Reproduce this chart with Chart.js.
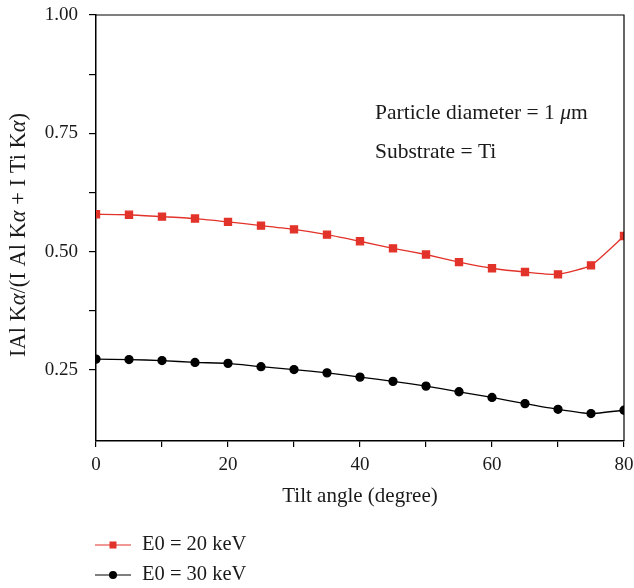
<!DOCTYPE html>
<html lang="en">
<head>
  <meta charset="UTF-8" />
  <title>Tilt angle</title>
  <script src="https://cdn.jsdelivr.net/npm/chart.js"></script>
  <style>
    html, body { margin: 0; padding: 0; background: #fff; }
    #wrap { width: 634px; height: 588px; }
  </style>
</head>
<body>
  <div id="wrap"><canvas id="grafico" width="634" height="588"></canvas></div>

  <script>
    // datos
    const tiltAngles = [0, 5, 10, 15, 20, 25, 30, 35, 40, 45, 50, 55, 60, 65, 70, 75, 80];
    const ratio20keV = [0.579, 0.578, 0.574, 0.570, 0.563, 0.555, 0.547, 0.536, 0.522, 0.507, 0.494, 0.478, 0.465, 0.457, 0.452, 0.471, 0.533];
    const ratio30keV = [0.273, 0.272, 0.270, 0.266, 0.264, 0.257, 0.251, 0.244, 0.235, 0.226, 0.216, 0.204, 0.192, 0.179, 0.167, 0.158, 0.165];
    const seriesLabels = ['E0 = 20 keV', 'E0 = 30 keV'];
    const xTickLabels = [0, 20, 40, 60, 80];
    const yTickLabels = [0.25, 0.5, 0.75, 1.0];

    const SERIF = '"Liberation Serif", "DejaVu Serif", serif';
    const ROJO = '#e2332a';
    const TEXTO = '#1a1a1a';

    const toPoints = vals => tiltAngles.map((a, i) => ({ x: a, y: vals[i] }));

    // marco, textos y leyenda
    const extras = {
      id: 'extras',
      afterDraw(chart) {
        const { ctx, chartArea: a } = chart;
        ctx.save();
        ctx.strokeStyle = '#000';
        ctx.lineWidth = 1.2;
        ctx.beginPath();
        ctx.moveTo(a.left, a.top);
        ctx.lineTo(a.right, a.top);
        ctx.lineTo(a.right, a.bottom);
        ctx.stroke();

        // anotaciones
        ctx.fillStyle = TEXTO;
        ctx.textBaseline = 'middle';
        ctx.textAlign = 'left';
        ctx.font = '21.5px ' + SERIF;
        let t = 'Particle diameter = 1 ';
        ctx.fillText(t, 375, 113);
        let w = ctx.measureText(t).width;
        ctx.font = 'italic 21.5px ' + SERIF;
        ctx.fillText('\u03bc', 375 + w, 113);
        let w2 = ctx.measureText('\u03bc').width;
        ctx.font = '21.5px ' + SERIF;
        ctx.fillText('m', 375 + w + w2, 113);
        ctx.fillText('Substrate = Ti', 375, 152);

        // titulo eje y con alfa en cursiva
        const parts = [['IAl K', false], ['\u03b1', true], ['/(I Al K', false], ['\u03b1', true],
                       [' + I Ti K', false], ['\u03b1', true], [')', false]];
        const fy = '22.5px ' + SERIF;
        let total = 0;
        parts.forEach(p => {
          ctx.font = (p[1] ? 'italic ' : '') + fy;
          total += ctx.measureText(p[0]).width;
        });
        ctx.translate(19, 235);
        ctx.rotate(-Math.PI / 2);
        let x = -total / 2;
        parts.forEach(p => {
          ctx.font = (p[1] ? 'italic ' : '') + fy;
          ctx.fillText(p[0], x, 0);
          x += ctx.measureText(p[0]).width;
        });
        ctx.setTransform(1, 0, 0, 1, 0, 0);

        // leyenda
        chart.data.datasets.forEach((ds, i) => {
          const y = 545 + i * 30;
          ctx.strokeStyle = ds.borderColor;
          ctx.lineWidth = 1.2;
          ctx.beginPath();
          ctx.moveTo(95, y);
          ctx.lineTo(131, y);
          ctx.stroke();
          ctx.fillStyle = ds.pointBackgroundColor;
          if (ds.pointStyle === 'rect') {
            ctx.fillRect(113 - 3.5, y - 3.5, 7, 7);
          } else {
            ctx.beginPath();
            ctx.arc(113, y, 4, 0, Math.PI * 2);
            ctx.fill();
          }
          ctx.fillStyle = TEXTO;
          ctx.font = '20.5px ' + SERIF;
          ctx.fillText(ds.label, 142, y);
        });
        ctx.restore();
      }
    };

    const ctx = document.getElementById('grafico').getContext('2d');
    new Chart(ctx, {
      type: 'line',
      data: {
        datasets: [
          {
            label: seriesLabels[0],
            data: toPoints(ratio20keV),
            borderColor: ROJO,
            backgroundColor: ROJO,
            pointBackgroundColor: ROJO,
            pointBorderColor: ROJO,
            pointStyle: 'rect',
            pointRadius: 5,
            borderWidth: 1.3,
            tension: 0.15
          },
          {
            label: seriesLabels[1],
            data: toPoints(ratio30keV),
            borderColor: '#000',
            backgroundColor: '#000',
            pointBackgroundColor: '#000',
            pointBorderColor: '#000',
            pointStyle: 'circle',
            pointRadius: 4,
            borderWidth: 1.3,
            tension: 0.15
          }
        ]
      },
      options: {
        responsive: false,
        animation: false,
        layout: { padding: { left: 0, right: 10, top: 15, bottom: 79 } },
        plugins: { legend: { display: false }, tooltip: { enabled: false } },
        scales: {
          x: {
            type: 'linear',
            min: 0,
            max: 80,
            afterFit: s => { s.height = 68; s.paddingLeft = 0; s.paddingRight = 0; },
            border: { color: '#000', width: 1.5 },
            grid: { drawOnChartArea: false, drawTicks: true, tickLength: 6, color: '#000', lineWidth: 1.2 },
            ticks: {
              stepSize: 10,
              padding: 7,
              color: TEXTO,
              font: { family: SERIF, size: 19 },
              callback: v => xTickLabels.includes(v) ? String(v) : ''
            },
            title: {
              display: true,
              text: 'Tilt angle (degree)',
              color: TEXTO,
              font: { family: SERIF, size: 21 },
              padding: { top: 4, bottom: 0 }
            }
          },
          y: {
            min: 0.1,
            max: 1.0,
            afterFit: s => { s.width = 96; s.paddingTop = 0; s.paddingBottom = 0; },
            afterBuildTicks: s => {
              s.ticks = s.ticks.filter(t => Math.abs(t.value / 0.125 - Math.round(t.value / 0.125)) < 1e-6);
            },
            border: { color: '#000', width: 1.5 },
            grid: { drawOnChartArea: false, drawTicks: true, tickLength: 7, color: '#000', lineWidth: 1.2 },
            ticks: {
              stepSize: 0.125,
              padding: 11,
              color: TEXTO,
              font: { family: SERIF, size: 19 },
              callback: v => yTickLabels.some(l => Math.abs(l - v) < 1e-6) ? v.toFixed(2) : ''
            }
          }
        }
      },
      plugins: [extras]
    });
  </script>
</body>
</html>
